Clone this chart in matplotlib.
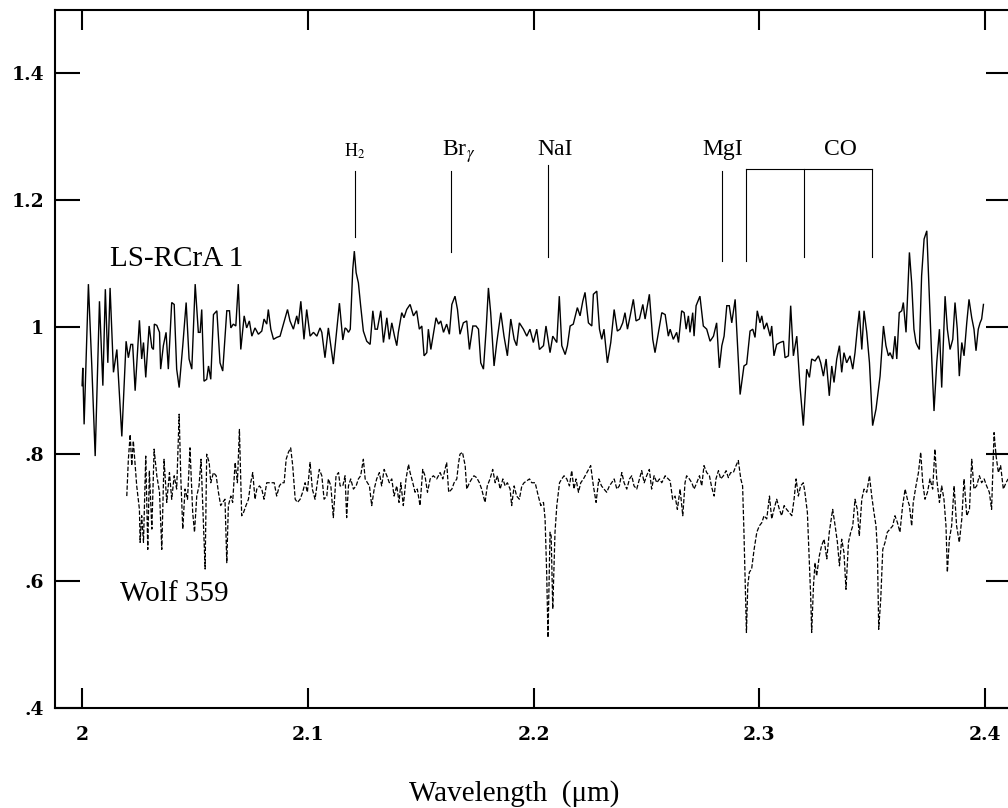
import matplotlib
matplotlib.use("Agg")
import matplotlib.pyplot as plt

# ---------------- data ----------------
wl_ls = [2.0000,2.0003,2.0009,2.0028,2.0043,2.0058,2.0077,2.0092,2.0103,2.0114,2.0124,2.0139,2.0154,2.0176,2.0195,2.0205,2.0216,2.0224,2.0235,2.0254,2.0264,2.0272,2.0282,2.0297,2.0309,2.0316,2.0320,2.0331,2.0343,2.0348,2.0360,2.0372,2.0382,2.0397,2.0408,2.0419,2.0430,2.0446,2.0461,2.0474,2.0486,2.0501,2.0515,2.0523,2.0530,2.0540,2.0552,2.0560,2.0570,2.0582,2.0597,2.0611,2.0623,2.0641,2.0653,2.0659,2.0670,2.0681,2.0692,2.0703,2.0718,2.0729,2.0741,2.0752,2.0766,2.0781,2.0796,2.0806,2.0818,2.0825,2.0836,2.0848,2.0862,2.0877,2.0892,2.0910,2.0921,2.0936,2.0951,2.0958,2.0969,2.0983,2.0995,2.1010,2.1025,2.1040,2.1054,2.1062,2.1076,2.1091,
         2.1113,2.1140,2.1155,2.1165,2.1172,2.1180,2.1188,2.1199,2.1206,2.1214,2.1224,2.1234,2.1246,2.1261,2.1276,2.1288,2.1298,2.1308,2.1323,2.1335,2.1350,2.1361,2.1372,2.1384,2.1394,2.1401,2.1416,2.1426,2.1438,2.1453,2.1468,2.1482,2.1494,2.1505,2.1515,2.1527,2.1534,2.1545,2.1556,2.1568,2.1579,2.1589,2.1601,2.1615,2.1627,2.1638,2.1652,2.1663,2.1674,2.1689,2.1704,2.1716,2.1731,2.1745,2.1756,2.1766,2.1778,2.1790,2.1800,2.1810,2.1825,2.1837,2.1855,2.1869,2.1884,2.1899,2.1914,2.1925,2.1937,2.1955,2.1970,2.1984,2.1999,2.2014,2.2026,2.2044,2.2055,2.2073,2.2085,2.2103,2.2114,2.2125,2.2140,2.2150,2.2162,2.2176,2.2194,2.2206,2.2218,2.2228,2.2243,2.2258,2.2265,2.2280,2.2292,2.2302,2.2312,2.2327,2.2342,2.2357,2.2371,2.2383,2.2395,2.2405,2.2416,2.2428,2.2442,2.2454,2.2469,2.2484,2.2494,2.2513,2.2528,2.2538,2.2553,2.2568,2.2583,2.2597,
         2.2605,2.2619,2.2634,2.2642,2.2656,2.2667,2.2676,2.2686,2.2693,2.2705,2.2711,2.2720,2.2737,2.2752,2.2767,2.2782,2.2797,2.2811,2.2823,2.2834,2.2844,2.2856,2.2867,2.2878,2.2893,2.2915,2.2932,2.2944,2.2959,2.2971,2.2981,2.2991,2.3003,2.3011,2.3021,2.3033,2.3048,2.3055,2.3065,2.3077,2.3092,2.3107,2.3114,2.3129,2.3139,2.3151,2.3166,2.3180,2.3195,2.3210,2.3222,2.3232,2.3247,2.3262,2.3272,2.3284,2.3296,2.3310,2.3321,2.3331,2.3343,2.3355,2.3365,2.3375,2.3387,2.3402,2.3414,2.3424,2.3434,2.3443,2.3454,2.3464,2.3476,2.3488,2.3502,2.3517,2.3535,2.3550,2.3561,2.3572,2.3579,2.3591,2.3601,2.3609,2.3620,2.3631,2.3638,2.3650,2.3665,2.3675,2.3685,2.3694,2.3700,2.3709,2.3719,2.3730,2.3742,2.3753,2.3764,2.3774,2.3786,2.3798,2.3808,2.3823,2.3833,2.3845,2.3857,2.3867,2.3877,2.3886,2.3897,2.3907,2.3919,2.3929,2.3941,2.3951,2.3960,2.3970,2.3978,2.3985,2.3993]
flux_ls = [0.908,0.936,0.847,1.068,0.939,0.797,1.041,0.908,1.060,0.944,1.062,0.929,0.965,0.828,0.978,0.952,0.973,0.973,0.900,1.011,0.950,0.976,0.921,1.002,0.968,0.965,1.005,1.003,0.992,0.934,0.971,0.992,0.934,1.039,1.036,0.934,0.905,0.971,1.039,0.950,0.934,1.068,0.992,0.992,1.028,0.915,0.918,0.939,0.918,1.020,1.026,0.944,0.931,1.026,1.026,0.999,1.005,1.002,1.068,0.965,1.018,0.999,1.010,0.986,0.999,0.989,0.994,1.013,1.005,1.028,0.997,0.981,0.984,0.986,1.005,1.028,1.010,0.997,1.018,1.005,1.041,0.981,1.028,0.986,0.992,0.986,0.999,0.992,0.952,0.999,
           0.942,1.038,0.980,0.999,0.997,0.992,0.997,1.091,1.120,1.086,1.070,1.034,0.994,0.978,0.973,1.026,0.997,0.997,1.026,0.976,1.015,0.981,1.007,0.986,0.971,0.992,1.023,1.015,1.028,1.036,1.018,1.026,0.997,1.002,0.955,0.960,0.997,0.965,0.989,1.015,1.005,1.010,0.992,1.005,0.989,1.036,1.049,1.028,0.989,1.007,1.010,0.965,1.002,1.002,0.997,0.944,0.934,0.997,1.062,1.023,0.939,0.976,1.023,0.986,0.955,1.013,0.981,0.971,1.007,0.997,0.986,0.997,0.976,0.997,0.965,0.971,1.002,0.960,0.986,0.976,1.049,0.971,0.957,0.971,1.002,1.005,1.031,1.018,1.041,1.055,1.007,1.002,1.052,1.057,0.997,0.981,0.997,0.944,0.976,1.028,0.994,0.997,1.007,1.023,0.997,1.018,1.044,1.010,1.013,1.036,1.013,1.052,0.981,0.960,0.992,1.023,1.020,0.986,
           0.997,0.981,0.992,0.976,1.026,1.023,0.997,1.018,0.992,1.023,0.986,1.034,1.049,1.002,0.997,0.978,0.986,1.007,0.936,0.971,0.986,1.034,1.034,1.007,1.044,0.894,0.939,0.942,0.994,0.997,0.984,1.026,1.007,1.018,0.997,1.007,0.986,1.002,0.955,0.973,0.976,0.978,0.952,0.955,1.034,0.955,0.986,0.908,0.845,0.934,0.921,0.950,0.947,0.955,0.944,0.923,0.950,0.892,0.939,0.913,0.950,0.971,0.929,0.960,0.944,0.955,0.934,0.960,0.997,1.026,0.965,1.026,0.992,0.944,0.845,0.871,0.923,1.002,0.971,0.955,0.960,0.950,0.986,0.950,1.023,1.026,1.039,0.992,1.118,1.070,0.997,0.976,0.971,0.965,1.081,1.139,1.152,1.049,0.950,0.868,0.944,0.997,0.905,1.049,0.997,0.965,0.981,1.039,0.997,0.923,0.976,0.955,1.007,1.044,1.015,0.997,0.963,0.997,1.007,1.013,1.036]

wl_wolf = [2.0198,2.0205,2.0213,2.0220,2.0227,2.0235,2.0242,2.0254,2.0257,2.0264,2.0272,2.0282,2.0291,2.0298,2.0309,2.0319,2.0331,2.0343,2.0353,2.0363,2.0375,2.0387,2.0397,2.0408,2.0419,2.0430,2.0437,2.0446,2.0456,2.0467,2.0478,2.0490,2.0498,2.0508,2.0518,2.0527,2.0535,2.0545,2.0552,2.0563,2.0570,2.0582,2.0594,2.0604,2.0614,2.0623,2.0633,2.0641,2.0648,2.0659,2.0667,2.0678,2.0688,2.0697,2.0707,2.0715,2.0726,2.0737,2.0747,2.0756,2.0766,2.0774,2.0786,2.0796,2.0806,2.0818,2.0830,2.0840,2.0851,2.0862,2.0874,2.0884,2.0895,2.0904,2.0914,2.0924,2.0933,2.0944,2.0954,2.0966,2.0977,2.0988,2.0998,2.1010,2.1020,2.1032,2.1042,2.1051,2.1062,2.1072,2.1084,2.1091,2.1102,
           2.1113,2.1125,2.1136,2.1143,2.1155,2.1165,2.1172,2.1180,2.1190,2.1202,2.1214,2.1224,2.1234,2.1246,2.1254,2.1264,2.1273,2.1283,2.1294,2.1305,2.1317,2.1327,2.1338,2.1350,2.1361,2.1372,2.1382,2.1394,2.1404,2.1412,2.1423,2.1435,2.1446,2.1453,2.1465,2.1475,2.1485,2.1497,2.1509,2.1519,2.1530,2.1542,2.1556,2.1571,2.1586,2.1598,2.1608,2.1615,2.1624,2.1638,2.1648,2.1660,2.1667,2.1674,2.1685,2.1697,2.1704,2.1716,2.1726,2.1736,2.1748,2.1760,2.1770,2.1785,2.1795,2.1807,2.1819,2.1830,2.1840,2.1852,2.1864,2.1874,2.1884,2.1896,2.1903,2.1914,2.1925,2.1937,2.1948,2.1958,2.1970,2.1982,2.1992,2.2007,2.2021,2.2032,2.2044,2.2051,2.2058,2.2064,2.2073,2.2078,2.2085,2.2095,2.2103,2.2115,2.2125,2.2135,2.2147,2.2159,2.2169,2.2179,2.2188,2.2199,2.2209,2.2221,2.2236,2.2253,2.2265,2.2277,2.2289,2.2301,2.2312,2.2324,2.2336,2.2346,2.2357,2.2369,2.2380,2.2391,2.2401,2.2413,2.2425,2.2435,2.2445,2.2457,2.2469,2.2479,2.2490,2.2501,2.2513,2.2523,2.2534,2.2546,2.2558,2.2568,2.2583,
           2.2605,2.2616,2.2627,2.2637,2.2649,2.2661,2.2671,2.2678,2.2690,2.2701,2.2711,2.2723,2.2735,2.2745,2.2755,2.2767,2.2779,2.2789,2.2800,2.2808,2.2819,2.2829,2.2841,2.2853,2.2863,2.2873,2.2885,2.2897,2.2907,2.2918,2.2926,2.2932,2.2938,2.2943,2.2949,2.2956,2.2966,2.2977,2.2989,2.3000,2.3011,2.3021,2.3033,2.3045,2.3055,2.3065,2.3077,2.3089,2.3099,2.3110,2.3121,2.3133,2.3144,2.3154,2.3163,2.3173,2.3183,2.3195,2.3202,2.3213,2.3222,2.3228,2.3232,2.3240,2.3247,2.3254,2.3266,2.3276,2.3287,2.3299,2.3310,2.3325,2.3336,2.3346,2.3355,2.3365,2.3375,2.3384,2.3395,2.3405,2.3414,2.3424,2.3434,2.3443,2.3454,2.3464,2.3476,2.3488,2.3498,2.3508,2.3517,2.3523,2.3529,2.3538,2.3547,2.3557,2.3567,2.3579,2.3591,2.3601,2.3612,2.3623,2.3635,2.3646,2.3656,2.3665,2.3675,2.3682,2.3694,2.3705,2.3715,2.3724,2.3734,2.3745,2.3756,2.3768,2.3778,2.3786,2.3798,2.3808,2.3818,2.3827,2.3833,2.3842,2.3852,2.3863,2.3874,2.3886,2.3897,2.3907,2.3919,2.3931,2.3941,2.3951,2.3963,2.3975,2.3985,2.3996,2.4007,2.4019,2.4029,2.4040,2.4049,2.4059,2.4069,2.4081,2.4093,2.4102]
flux_wolf = [0.734,0.792,0.831,0.782,0.821,0.782,0.750,0.713,0.661,0.703,0.661,0.797,0.650,0.774,0.682,0.808,0.766,0.740,0.650,0.792,0.724,0.771,0.729,0.766,0.745,0.863,0.766,0.682,0.745,0.729,0.810,0.708,0.677,0.734,0.750,0.792,0.713,0.619,0.800,0.787,0.755,0.771,0.766,0.740,0.719,0.724,0.729,0.629,0.719,0.734,0.724,0.787,0.755,0.839,0.703,0.708,0.719,0.729,0.755,0.771,0.729,0.745,0.750,0.745,0.729,0.755,0.755,0.755,0.755,0.734,0.750,0.755,0.755,0.792,0.803,0.810,0.782,0.729,0.724,0.729,0.740,0.755,0.740,0.787,0.745,0.729,0.755,0.776,0.766,0.729,0.734,0.761,0.750,
             0.700,0.766,0.771,0.750,0.750,0.766,0.700,0.750,0.761,0.745,0.750,0.761,0.766,0.792,0.761,0.755,0.750,0.719,0.745,0.761,0.771,0.750,0.776,0.766,0.755,0.761,0.734,0.750,0.724,0.755,0.719,0.761,0.784,0.771,0.755,0.740,0.745,0.719,0.776,0.766,0.740,0.761,0.766,0.761,0.771,0.761,0.776,0.787,0.740,0.745,0.755,0.761,0.784,0.800,0.803,0.782,0.745,0.755,0.761,0.766,0.763,0.755,0.745,0.724,0.750,0.761,0.776,0.755,0.766,0.745,0.761,0.750,0.755,0.745,0.719,0.750,0.734,0.729,0.750,0.755,0.758,0.761,0.755,0.755,0.734,0.719,0.724,0.698,0.614,0.511,0.677,0.671,0.556,0.677,0.719,0.755,0.761,0.766,0.761,0.750,0.774,0.745,0.761,0.740,0.755,0.761,0.771,0.782,0.750,0.724,0.761,0.750,0.745,0.740,0.750,0.755,0.761,0.745,0.750,0.771,0.755,0.745,0.761,0.766,0.750,0.745,0.761,0.774,0.755,0.766,0.776,0.745,0.766,0.755,0.761,0.755,0.766,
             0.758,0.729,0.734,0.713,0.745,0.703,0.755,0.766,0.761,0.755,0.745,0.755,0.766,0.750,0.782,0.771,0.766,0.748,0.734,0.761,0.774,0.761,0.766,0.774,0.763,0.771,0.771,0.782,0.790,0.761,0.750,0.677,0.593,0.519,0.593,0.614,0.619,0.650,0.677,0.687,0.692,0.703,0.698,0.734,0.698,0.713,0.729,0.713,0.703,0.719,0.713,0.708,0.703,0.729,0.761,0.734,0.750,0.755,0.740,0.708,0.624,0.572,0.519,0.593,0.629,0.608,0.640,0.656,0.666,0.635,0.677,0.713,0.687,0.661,0.624,0.666,0.645,0.587,0.661,0.677,0.687,0.729,0.713,0.671,0.729,0.745,0.740,0.766,0.734,0.708,0.687,0.650,0.524,0.572,0.650,0.661,0.677,0.682,0.687,0.703,0.692,0.677,0.719,0.745,0.729,0.719,0.687,0.724,0.750,0.771,0.803,0.755,0.729,0.740,0.761,0.745,0.808,0.761,0.724,0.750,0.729,0.687,0.614,0.666,0.687,0.750,0.687,0.661,0.698,0.761,0.703,0.713,0.792,0.745,0.750,0.766,0.755,0.761,0.750,0.740,0.713,0.834,0.797,0.771,0.782,0.745,0.755,0.761]

line_names = ["H$_2$", "Br$_\\gamma$", "NaI", "MgI"]
line_wl = [2.1209, 2.1635, 2.2064, 2.2835]
co_wl = [2.2941, 2.3198, 2.3499]

x_ticks = [2.0, 2.1, 2.2, 2.3, 2.4]
x_ticklabels = ["2", "2.1", "2.2", "2.3", "2.4"]
y_ticks = [0.4, 0.6, 0.8, 1.0, 1.2, 1.4]
y_ticklabels = [".4", ".6", ".8", "1", "1.2", "1.4"]

# ---------------- figure ----------------
plt.rcParams["font.family"] = ["Liberation Serif", "DejaVu Serif"]
plt.rcParams["mathtext.fontset"] = "stix"

W, H = 1008, 808
fig = plt.figure(figsize=(W / 100, H / 100), dpi=100)
ax = fig.add_axes([55 / W, (H - 708) / H, (1011 - 55) / W, (708 - 10) / H])

ax.plot(wl_ls, flux_ls, color="black", lw=1.0, solid_joinstyle="miter")
ax.plot(wl_wolf, flux_wolf, color="black", lw=0.9, dashes=(3.5, 1.5))

ax.set_xlim(1.988, 2.4115)
ax.set_ylim(0.4, 1.5)

for sp in ax.spines.values():
    sp.set_linewidth(1.5)

tickfont = dict(family="DejaVu Serif", weight="bold", size=13.5)
ax.set_xticks(x_ticks)
ax.set_xticklabels(x_ticklabels, fontdict=tickfont)
ax.set_yticks(y_ticks)
ax.set_yticklabels(y_ticklabels, fontdict=tickfont)
ax.tick_params(axis="x", direction="in", length=14.5, width=1.5, top=True, pad=13)
ax.tick_params(axis="y", direction="in", length=18, width=1.5, right=True, pad=8)
ax.minorticks_off()

# spectrum labels
ax.text(2.0124, 1.096, "LS-RCrA 1", fontsize=21, ha="left", va="baseline")
ax.text(2.0168, 0.5685, "Wolf 359", fontsize=21, ha="left", va="baseline")

# line identifications
lw_id = 0.8
line_bottoms = [1.142, 1.118, 1.110, 1.105]
line_tops = [1.247, 1.247, 1.255, 1.247]
for x, yb, yt in zip(line_wl, line_bottoms, line_tops):
    ax.plot([x, x], [yb, yt], color="black", lw=lw_id)

ax.text(line_wl[0], 1.269, line_names[0], fontsize=13, ha="center", va="baseline")
ax.text(2.1595, 1.271, line_names[1], fontsize=17, ha="left", va="baseline")
ax.text(2.2097, 1.271, line_names[2], fontsize=17, ha="center", va="baseline")
ax.text(2.2839, 1.271, line_names[3], fontsize=17, ha="center", va="baseline")

co_bottoms = [1.105, 1.111, 1.111]
ax.plot([co_wl[0], co_wl[-1]], [1.249, 1.249], color="black", lw=lw_id)
for x, yb in zip(co_wl, co_bottoms):
    ax.plot([x, x], [yb, 1.249], color="black", lw=lw_id)
ax.text(2.3358, 1.271, "CO", fontsize=17, ha="center", va="baseline")

fig.text(514 / W, (H - 801) / H, "Wavelength  (\u03bcm)", fontsize=21,
         ha="center", va="baseline")

fig.savefig("out.png", dpi=100)
